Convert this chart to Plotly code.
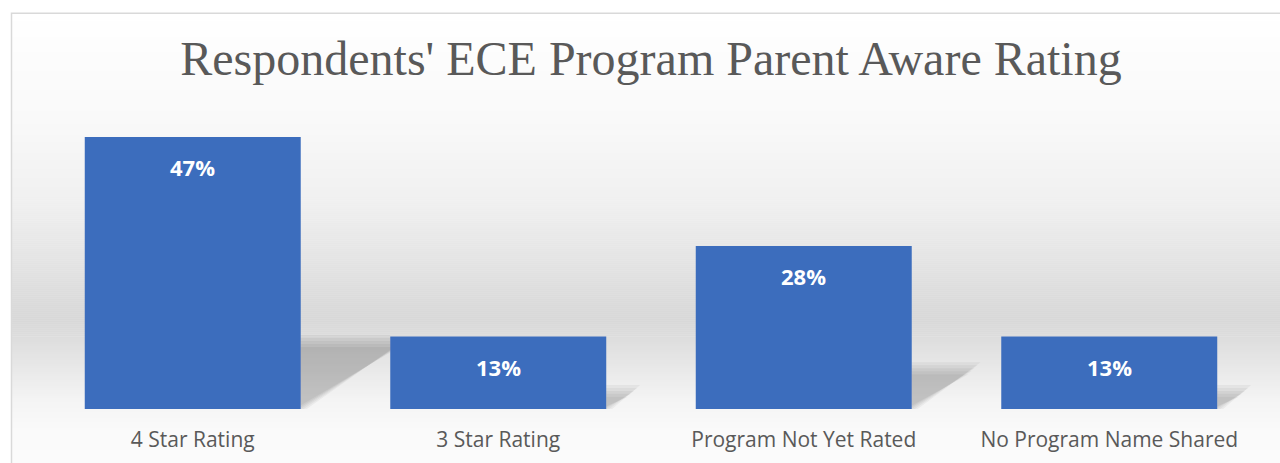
import plotly.graph_objects as go

# ---- data ----
categories = ["4 Star Rating", "3 Star Rating", "Program Not Yet Rated", "No Program Name Shared"]
shares = [0.469, 0.125, 0.281, 0.125]
labels = ["47%", "13%", "28%", "13%"]
title_text = "Respondents' ECE Program Parent Aware Rating"

positions = list(range(len(categories)))

# ---- geometry (px) ----
W, H = 1280, 463
L, R, T, B = 40, 1262, 118.5, 409.0
Y_MAX = 0.5
BAR_W = 0.707
px_per_x = (R - L) / 4.0
px_per_y = (B - T) / Y_MAX


def px_x(x):
    return (x - L) / (R - L)


def px_y(y):
    return (B - y) / (B - T)


# background gradient stops (pixel row, grey level)
bg_stops = [(12, 255), (60, 252), (120, 249), (200, 240), (260, 228), (300, 219),
            (320, 216), (340, 222), (370, 233), (400, 244), (430, 250), (470, 251)]


def grey_at(y):
    for (y0, g0), (y1, g1) in zip(bg_stops[:-1], bg_stops[1:]):
        if y0 <= y <= y1:
            t = (y - y0) / (y1 - y0)
            return g0 + (g1 - g0) * t
    return bg_stops[-1][1]


shapes = []
step = 2
y = 12
while y < 470:
    g = int(round(grey_at(y + step / 2)))
    shapes.append(dict(type="rect", xref="paper", yref="paper", layer="below",
                       x0=px_x(12), x1=px_x(1295), y0=px_y(y + step + 0.5), y1=px_y(y),
                       fillcolor=f"rgb({g},{g},{g})", line=dict(width=0)))
    y += step
# chart border
shapes.append(dict(type="rect", xref="paper", yref="paper", layer="below",
                   x0=px_x(11.5), x1=px_x(1295), y0=px_y(480), y1=px_y(12.5),
                   fillcolor="rgba(0,0,0,0)", line=dict(color="#d9d9d9", width=1.5)))


def clip_poly(pts, xmin, xmax):
    """Clip polygon (list of (x, y)) to xmin <= x <= xmax."""
    def clip(points, inside, inter):
        out = []
        n = len(points)
        for k in range(n):
            cur, prev = points[k], points[k - 1]
            if inside(cur):
                if not inside(prev):
                    out.append(inter(prev, cur))
                out.append(cur)
            elif inside(prev):
                out.append(inter(prev, cur))
        return out

    def inter_x(xc):
        def f(p, q):
            t = (xc - p[0]) / (q[0] - p[0])
            return (xc, p[1] + t * (q[1] - p[1]))
        return f

    pts = clip(pts, lambda p: p[0] >= xmin, inter_x(xmin))
    if pts:
        pts = clip(pts, lambda p: p[0] <= xmax, inter_x(xmax))
    return pts


fig = go.Figure()

# soft perspective shadows between the bars (derived from the bar values)
SH_UP = 0.25          # shadow height as fraction of bar height
SH_RIGHT_PX = 0.385   # horizontal shift (px) per px of bar height
for pos, v in zip(positions, shares):
    hpx = v * px_per_y
    sx = SH_RIGHT_PX * hpx / px_per_x
    xl = pos - BAR_W / 2
    xr = pos + BAR_W / 2
    x_next = pos + 1 - BAR_W / 2
    for e in (-6, -3, 0, 3, 6):
        ex = e / px_per_x
        ey = e / px_per_y
        ty = SH_UP * v + ey
        poly = [(xl, 0), (xr + ex, 0), (xr + ex + sx, ty), (xl + sx, ty)]
        poly = clip_poly(poly, xr, x_next)
        if len(poly) < 3:
            continue
        xs = [p[0] for p in poly] + [poly[0][0]]
        ys = [p[1] for p in poly] + [poly[0][1]]
        fig.add_trace(go.Scatter(
            x=xs, y=ys, mode="lines", fill="toself", line=dict(width=0),
            fillcolor="rgba(0,0,0,0.042)", hoverinfo="skip", showlegend=False,
        ))

fig.add_trace(go.Bar(
    x=positions, y=shares, width=BAR_W,
    marker=dict(color="#3c6dbd", line=dict(width=0)),
    hoverinfo="skip", showlegend=False,
))

annotations = []
for pos, v, lab in zip(positions, shares, labels):
    annotations.append(dict(x=pos, y=v, xref="x", yref="y", text=f"<b>{lab}</b>", showarrow=False,
                            yshift=-30, yanchor="middle",
                            font=dict(family="Open Sans", size=22, color="white")))

fig.update_layout(
    width=W, height=H,
    margin=dict(l=L, r=W - R, t=T, b=H - B, pad=0),
    paper_bgcolor="white",
    plot_bgcolor="rgba(0,0,0,0)",
    showlegend=False,
    title=dict(text=title_text, x=651 / W, xanchor="center", xref="container",
               y=1 - 58 / H, yanchor="middle", yref="container",
               font=dict(family="Liberation Serif", size=48, color="#595959")),
    xaxis=dict(range=[-0.5, 3.5], showgrid=False, zeroline=False, automargin=False,
               tickmode="array", tickvals=positions, ticktext=categories,
               showline=False, ticks="", ticklabelstandoff=16, fixedrange=True,
               tickfont=dict(family="Open Sans", size=21, color="#595959")),
    yaxis=dict(range=[0, Y_MAX], visible=False, showgrid=False, zeroline=False,
               automargin=False, fixedrange=True),
    shapes=shapes,
    annotations=annotations,
)

fig.write_html("out.html", config={"displayModeBar": False},
               post_script="document.body.style.margin='0';document.body.style.overflow='hidden';")
